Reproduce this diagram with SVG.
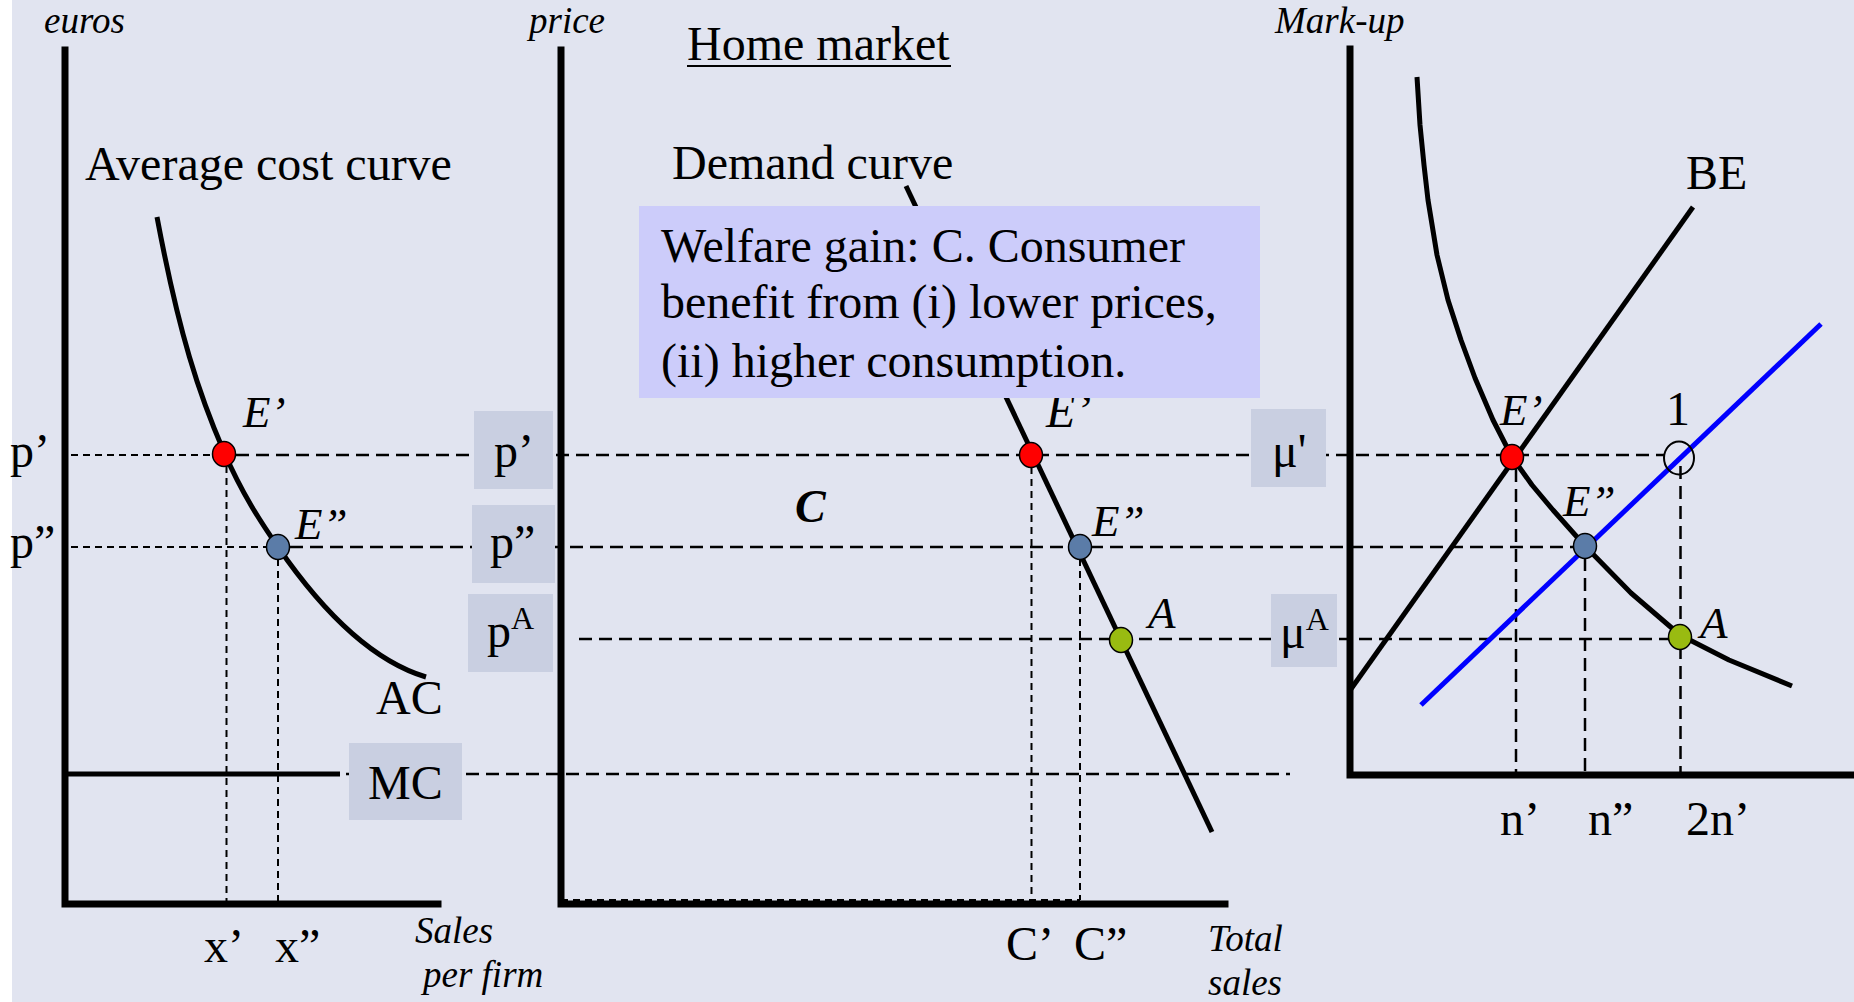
<svg xmlns="http://www.w3.org/2000/svg" width="1854" height="1002" viewBox="0 0 1854 1002">
<style>
text{font-family:"Liberation Serif","Times New Roman",serif;fill:#000}
.lbl{font-size:48px}
.it{font-size:37px;font-style:italic}
.el{font-size:45px;font-style:italic}
.axis{stroke:#000;stroke-width:7;fill:none;stroke-linecap:square}
.curve{stroke:#000;stroke-width:5;fill:none;stroke-linejoin:round}
.dash{stroke:#000;stroke-width:2.5;stroke-dasharray:13 7;fill:none}
.dashs{stroke:#000;stroke-width:2;stroke-dasharray:7 5;fill:none}
.vbox{fill:#C9CFE1}
.dot{stroke:#000;stroke-width:1.5}
</style>
<rect x="0" y="0" width="1854" height="1002" fill="#FFFFFF"/>
<rect x="12" y="0" width="1842" height="1002" fill="#E1E4F0"/>

<g id="connectors">
  <line class="dashs" x1="71" y1="455" x2="214" y2="455"/>
  <line class="dash" x1="236" y1="455" x2="1664" y2="455"/>
  <line class="dashs" x1="71" y1="547" x2="268" y2="547"/>
  <line class="dash" x1="290" y1="547" x2="1574" y2="547"/>
  <line class="dash" x1="579" y1="639" x2="1670" y2="639"/>
  <line class="dash" x1="346" y1="774" x2="1290" y2="774"/>
  <line class="dashs" x1="561" y1="900" x2="1080" y2="900"/>
  <line class="dashs" x1="226.5" y1="466" x2="226.5" y2="902"/>
  <line class="dashs" x1="278" y1="559" x2="278" y2="902"/>
  <line class="dashs" x1="1031.5" y1="467" x2="1031.5" y2="900"/>
  <line class="dashs" x1="1080" y1="559" x2="1080" y2="900"/>
  <line class="dash" x1="1516" y1="469" x2="1516" y2="772"/>
  <line class="dash" x1="1585" y1="558" x2="1585" y2="772"/>
  <line class="dash" x1="1680.5" y1="466" x2="1680.5" y2="772"/>
</g>

<g id="left-panel">
  <path class="axis" d="M65 50 V904 H438"/>
  <line x1="67" y1="774" x2="340" y2="774" stroke="#000" stroke-width="5"/>
  <path id="ac-curve" class="curve" d="M157 217 C179 334 199 394.5 224 452 C242 493.4 260 521 278 547 C328 619.5 376 662 426 677"/>
  <text class="it" x="44" y="33">euros</text>
  <text class="lbl" x="85" y="180">Average cost curve</text>
  <text class="lbl" x="10" y="467">p’</text>
  <text class="lbl" x="10" y="558">p”</text>
  <text class="el" x="243" y="427">E’</text>
  <text class="el" x="295" y="539">E”</text>
  <text class="lbl" x="376" y="714">AC</text>
  <text class="lbl" x="204" y="962">x’</text>
  <text class="lbl" x="275" y="962">x”</text>
  <text class="it" x="415" y="943">Sales</text>
  <text class="it" x="423" y="987">per firm</text>
  <g id="box-mc"><rect class="vbox" x="349" y="743" width="113" height="77"/><text class="lbl" x="368" y="799">MC</text></g>
  <ellipse class="dot" cx="224" cy="454" rx="11.5" ry="12.5" fill="#FF0000"/>
  <ellipse class="dot" cx="278" cy="547" rx="11.5" ry="12.5" fill="#5B7CA8"/>
</g>

<g id="middle-panel">
  <path class="axis" d="M561 50 V904 H1225"/>
  <line class="curve" x1="906" y1="186" x2="1212" y2="832"/>
  <text class="it" x="529" y="33">price</text>
  <text class="lbl" x="687" y="60">Home market</text>
  <line x1="687" y1="66" x2="951" y2="66" stroke="#000" stroke-width="2"/>
  <text class="lbl" x="672" y="179">Demand curve</text>
  <text x="1046" y="427" style="font-size:48px;font-style:italic">E’</text>
  <text class="el" x="1092" y="536">E”</text>
  <text class="el" x="1148" y="628">A</text>
  <text x="795" y="522" style="font-size:46px;font-style:italic;font-weight:bold">C</text>
  <text class="lbl" x="1006" y="960">C’</text>
  <text class="lbl" x="1074" y="960">C”</text>
  <text class="it" x="1208" y="951">Total</text>
  <text class="it" x="1208" y="995">sales</text>
  <g id="box-p1"><rect class="vbox" x="474" y="411" width="79" height="78"/><text class="lbl" x="494" y="467">p’</text></g>
  <g id="box-p2"><rect class="vbox" x="472" y="505" width="83" height="78"/><text class="lbl" x="490" y="558">p”</text></g>
  <g id="box-pa"><rect class="vbox" x="468" y="594" width="85" height="78"/><text class="lbl" x="487" y="647">p<tspan dy="-18" style="font-size:32px">A</tspan></text></g>
  <g id="welfare-box">
    <rect x="639" y="206" width="621" height="192" fill="#CCCCFA"/>
    <text class="lbl" x="661" y="262">Welfare gain: C. Consumer</text>
    <text class="lbl" x="661" y="318">benefit from (i) lower prices,</text>
    <text class="lbl" x="661" y="377">(ii) higher consumption.</text>
  </g>
  <ellipse class="dot" cx="1031" cy="455" rx="11.5" ry="12.5" fill="#FF0000"/>
  <ellipse class="dot" cx="1080" cy="547" rx="11.5" ry="12.5" fill="#5B7CA8"/>
  <ellipse class="dot" cx="1121" cy="640" rx="11.5" ry="12.5" fill="#99BB11"/>
</g>

<g id="right-panel">
  <path class="axis" d="M1350 49 V775 H1851"/>
  <polyline id="mu-curve" class="curve" points="1417,77 1420,125 1424,165 1428,200 1437,255 1448,300 1461,340 1475,378 1493,420 1512,457 1532,485 1553,510 1585,546 1631,593 1680,635 1729,660 1792,686"/>
  <line id="be-line" class="curve" x1="1351" y1="689" x2="1693" y2="207"/>
  <line id="blue-line" x1="1421" y1="705" x2="1821" y2="324" stroke="#0000FF" stroke-width="5"/>
  <text class="it" x="1275" y="33">Mark-up</text>
  <text class="lbl" x="1686" y="189">BE</text>
  <text class="el" x="1500" y="425">E’</text>
  <text class="el" x="1563" y="516">E”</text>
  <text class="el" x="1700" y="638">A</text>
  <text class="lbl" x="1666" y="425">1</text>
  <text class="lbl" x="1500" y="835">n’</text>
  <text class="lbl" x="1588" y="835">n”</text>
  <text class="lbl" x="1686" y="835">2n’</text>
  <g id="box-mu1"><rect class="vbox" x="1251" y="409" width="75" height="78"/><text class="lbl" x="1272" y="467">μ'</text></g>
  <g id="box-mua"><rect class="vbox" x="1271" y="594" width="66" height="73"/><text class="lbl" x="1280" y="648">μ<tspan dy="-18" style="font-size:32px">A</tspan></text></g>
  <ellipse class="dot" cx="1512" cy="457" rx="11.5" ry="12.5" fill="#FF0000"/>
  <ellipse class="dot" cx="1585" cy="546" rx="11.5" ry="12.5" fill="#5B7CA8"/>
  <ellipse class="dot" cx="1680" cy="637" rx="11.5" ry="12.5" fill="#99BB11"/>
  <ellipse cx="1679" cy="458" rx="15" ry="16.5" fill="none" stroke="#000" stroke-width="2"/>
</g>
</svg>
